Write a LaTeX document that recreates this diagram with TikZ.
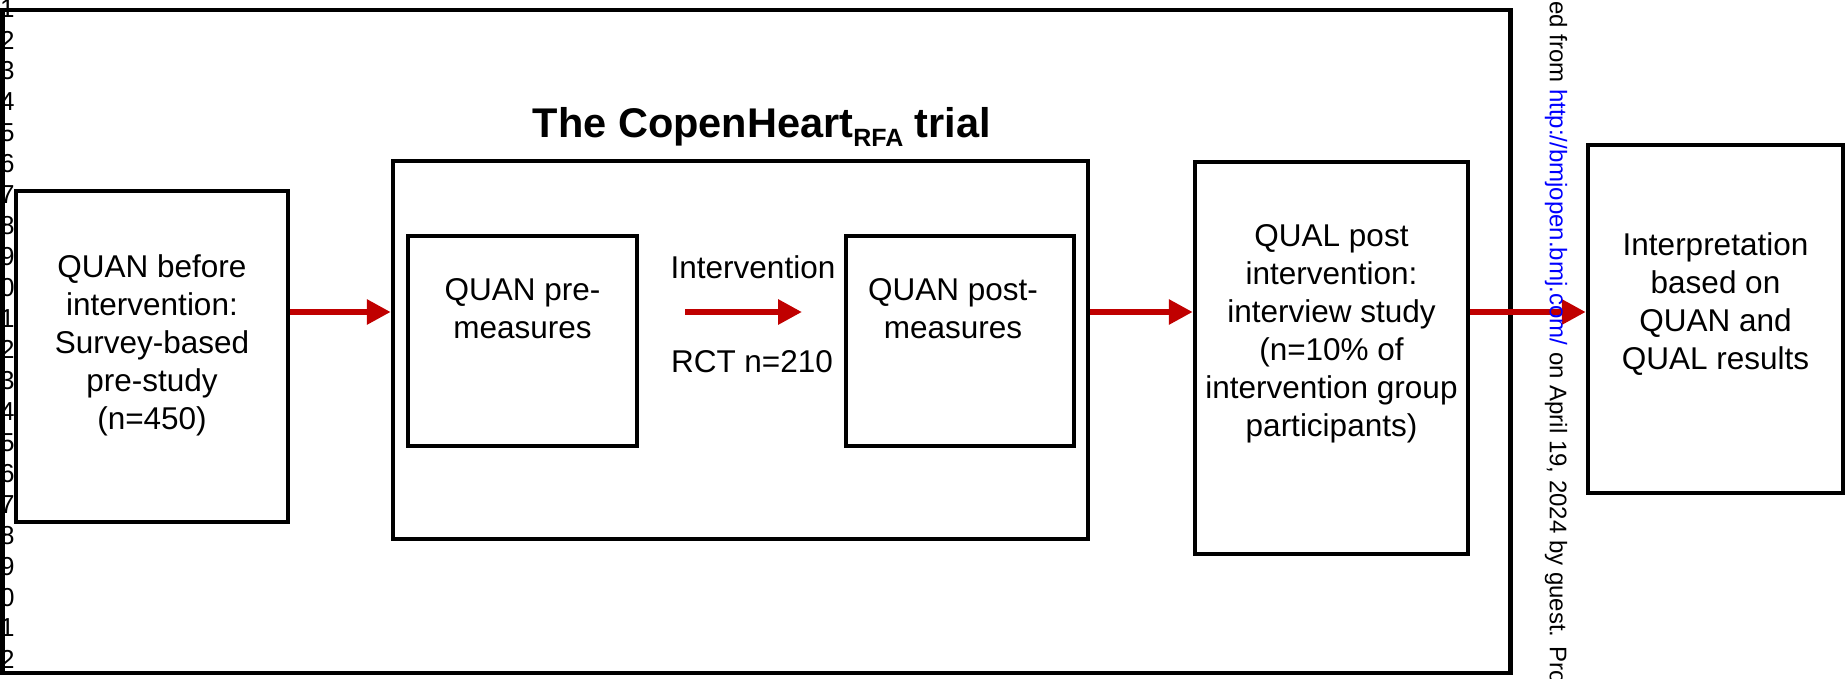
\documentclass[tikz,border=0pt]{standalone}
\usepackage{fontspec}
\setmainfont{Liberation Sans}
\usetikzlibrary{arrows.meta,positioning}
\definecolor{arrowred}{RGB}{192,0,0}
\definecolor{linkblue}{RGB}{0,0,255}

\begin{document}
\begin{tikzpicture}[x=1pt,y=-1pt,
	box/.style={draw, line width=4.5pt, inner sep=0pt},
	txt/.style={font=\fontsize{31.5}{38}\selectfont, align=center, inner sep=0pt},
	flow/.style={draw=arrowred, line width=6.5pt, -{Triangle[length=24pt,width=24pt]}},
	lineno/.style={font=\fontsize{26}{26}\selectfont, anchor=west, inner sep=0pt}]
	\useasboundingbox (0,0) rectangle (1845,678);
	\node[box, minimum width=1508pt, minimum height=663pt] (frame) at (756.5,341.5) {};
	\foreach \k in {1,...,22} {
		\pgfmathtruncatemacro{\d}{mod(\k,10)}
		\node[lineno] (ln\k) at (0,{9+(\k-1)*30.95}) {\d};
	}
	\node[box, minimum width=272pt, minimum height=331pt] (before) at (152,356.5) {};
	\node[box, minimum width=695pt, minimum height=378pt] (trial) at (740.5,350) {};
	\node[box, minimum width=229pt, minimum height=210pt] (pre) at (522.5,341) {};
	\node[box, minimum width=228pt, minimum height=210pt] (post) at (960,341) {};
	\node[box, minimum width=273pt, minimum height=392pt] (qual) at (1331.5,358) {};
	\node[box, minimum width=255pt, minimum height=348pt] (interp) at (1715.5,319) {};
	\node[txt] (beforetxt) at ([yshift=10.7pt]before.center) {QUAN before\\intervention:\\Survey-based\\pre-study\\(n=450)};
	\node[txt] (pretxt) at ([yshift=32pt]pre.center) {QUAN pre-\\measures};
	\node[txt] (posttxt) at ([xshift=-7pt,yshift=32pt]post.center) {QUAN post-\\measures};
	\node[txt] (qualtxt) at ([yshift=24pt]qual.center) {QUAL post\\intervention:\\interview study\\(n=10\% of\\intervention group\\participants)};
	\node[txt] (interptxt) at ([yshift=15.3pt]interp.center) {Interpretation\\based on\\QUAN and\\QUAL results};
	\node[font=\fontsize{41.5}{42}\selectfont\bfseries, anchor=base, inner sep=0pt] (title) at (762,137) {The CopenHeart\raisebox{-9pt}{\fontsize{25}{25}\selectfont RFA} trial};
	\node[txt, anchor=base] (intv) at (753,278) {Intervention};
	\node[txt, anchor=base] (rct) at (752,372) {RCT n=210};
	\coordinate (row) at (0,312);
	\coordinate (ia) at (685,312);
	\coordinate (ib) at (802,312);
	\draw[flow] (before.east |- row) -- (trial.west |- row);
	\draw[flow] (ia) -- (ib);
	\draw[flow] (trial.east |- row) -- (qual.west |- row);
	\draw[flow] (qual.east |- row) -- (interp.west |- row);
	\node[rotate=-90, anchor=west, inner sep=0pt, font=\fontsize{24}{24}\selectfont] (mark) at (1556,1) {ed from \textcolor{linkblue}{http://bmjopen.bmj.com/} on April 19, 2024 by guest. Pro};
\end{tikzpicture}
\end{document}
